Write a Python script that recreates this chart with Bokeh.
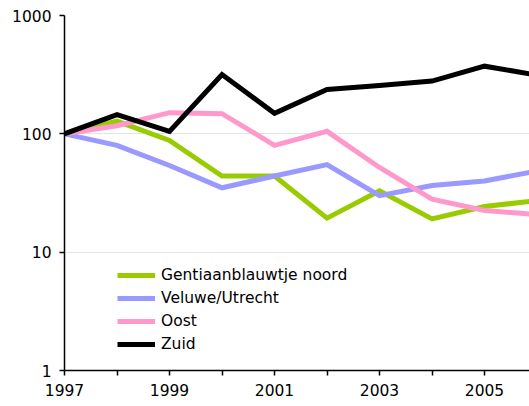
from bokeh.plotting import figure
from bokeh.models import FixedTicker, NumeralTickFormatter, Legend, LegendItem, Range1d
from bokeh.embed import file_html
from bokeh.resources import INLINE

years = [1997, 1998, 1999, 2000, 2001, 2002, 2003, 2004, 2005, 2006]
noord = [100, 128, 88, 44, 44, 19.4, 33, 19.1, 24.3, 27.3]
veluwe = [100, 80, 54, 35, 44, 55, 30, 36.6, 40, 48.5]
oost = [100, 117, 151, 148, 80, 105, 52, 28, 22.5, 20.8]
zuid = [100, 145, 105, 317, 149, 237, 256, 279, 373, 314]
names = ["Gentiaanblauwtje noord", "Veluwe/Utrecht", "Oost", "Zuid"]
colors = ["#99CC00", "#9999FF", "#FF99CC", "#000000"]
x_labels = [1997, 1999, 2001, 2003, 2005]
x_minor = [1998, 2000, 2002, 2004, 2006]
y_ticks = [1, 10, 100, 1000]

FONT = "DejaVu Sans"

p = figure(width=529, height=406, output_backend="svg", toolbar_location=None,
           y_axis_type="log", x_range=Range1d(1997, 2005.857), y_range=Range1d(1, 1000),
           min_border_left=64, min_border_right=0, min_border_top=15, min_border_bottom=36)
p.outline_line_color = None
p.background_fill_color = "white"
p.border_fill_color = "white"

renderers = []
for ys, c in zip([noord, veluwe, oost, zuid], colors):
    r = p.line(years, ys, line_color=c, line_width=5, line_join="miter")
    renderers.append(r)

p.xgrid.grid_line_color = None
p.ygrid.grid_line_color = "#c8c8c8"
p.ygrid.grid_line_dash = "1 1"
p.ygrid.grid_line_width = 1

p.xaxis.ticker = FixedTicker(ticks=x_labels, minor_ticks=x_minor)
p.yaxis.ticker = FixedTicker(ticks=y_ticks)
p.yaxis.formatter = NumeralTickFormatter(format="0")
for ax in [p.xaxis, p.yaxis]:
    ax.axis_line_color = "black"
    ax.axis_line_width = 1.5
    ax.major_tick_line_color = "black"
    ax.major_tick_line_width = 1.5
    ax.major_tick_in = 0
    ax.major_tick_out = 5
    ax.major_label_text_font = FONT
    ax.major_label_text_font_size = "15.5px"
    ax.major_label_text_color = "black"
p.xaxis.minor_tick_line_color = "black"
p.xaxis.minor_tick_line_width = 1.5
p.xaxis.minor_tick_in = 0
p.xaxis.minor_tick_out = 5
p.yaxis.minor_tick_line_color = None
p.xaxis.major_label_standoff = 8
p.yaxis.major_label_standoff = 8

items = [LegendItem(label=n, renderers=[r]) for n, r in zip(names, renderers)]
legend = Legend(items=items, location=(53, 16), orientation="vertical",
                padding=0, margin=0, spacing=3,
                label_height=20, glyph_height=20, glyph_width=38, label_standoff=6,
                label_text_font=FONT, label_text_font_size="15.5px",
                label_text_color="black",
                border_line_color=None, background_fill_alpha=0)
p.add_layout(legend)

open("out.html", "w").write(file_html(p, INLINE))
